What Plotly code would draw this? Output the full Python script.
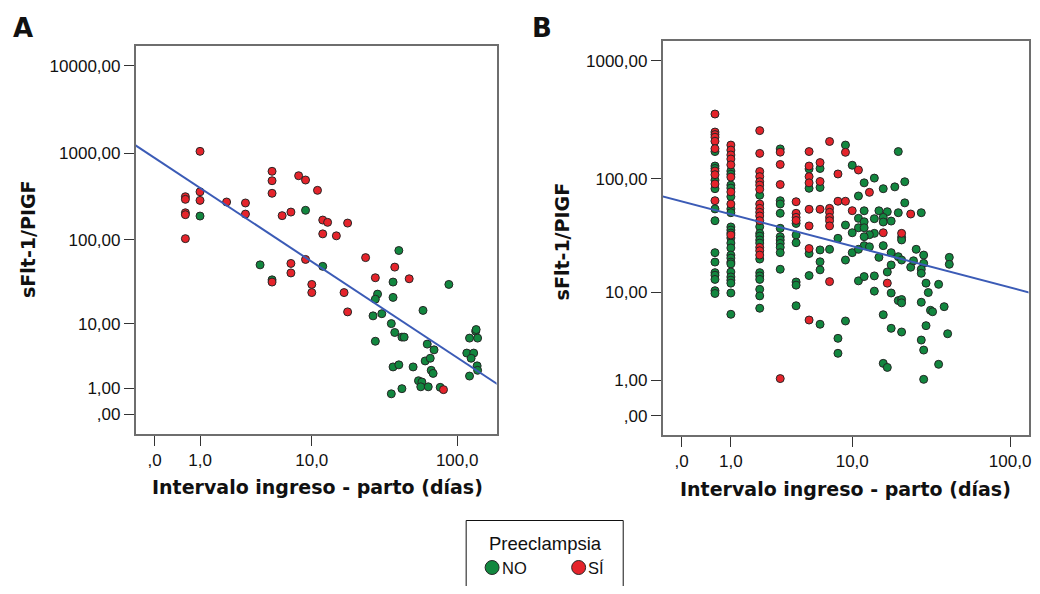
import plotly.graph_objects as go

# ---------------- data (days from admission to delivery, sFlt-1/PlGF ratio) ----------------
# Panel A
A_NO = [(1, 188), (9, 219), (4, 51), (12, 49), (5, 34), (40.5, 75), (37, 32), (88, 30), (29, 23),
        (28, 20), (37, 21), (27, 12.5), (31, 13.3), (59, 14.6), (36, 10), (38, 7.7), (42.5, 6.7),
        (44, 6.7), (28, 5.9), (63, 5.4), (70, 4.5), (133, 8), (134, 8.4), (121, 6.5), (137, 6.5),
        (116, 4.05), (129, 4.05), (124, 3.4), (136, 2.6), (137, 2.2), (121, 1.75), (37, 2.5),
        (40.5, 2.7), (50.6, 2.5), (61, 3.1), (66, 3.4), (67, 2.2), (69, 1.95), (55, 1.43),
        (58, 1.35), (57, 1.07), (64, 1.07), (77, 1.04), (42.5, 0.97), (36, 0.72)]
A_SI = [(1, 1045), (0.6, 314), (0.6, 293), (0.6, 205), (0.6, 195), (1, 358), (1, 285), (0.6, 103),
        (2, 273), (3, 266), (3, 198), (5, 616), (5, 480), (5, 344), (8, 548), (9, 489), (11, 372),
        (6, 190), (7, 209), (12, 169), (13, 159), (12, 117), (15, 111), (7, 53), (7, 41), (9, 59),
        (5, 32), (10, 30), (10, 24), (18, 156), (24, 62), (38, 48), (28, 36), (47.6, 35), (17, 24),
        (18, 14), (81, 0.92)]
A_FIT = (2.944, -1.144)   # log10(ratio+1) = a + b*log10(days+1)

# Panel B  (columns of equal day values, then scattered points)
B_NO_COLS = {
    0.6: [170, 128, 122, 97, 82, 55, 43.5, 22.9, 18.9, 15.2, 14.4, 13.2, 10.4, 9.8],
    1: [116, 109, 88, 83, 70, 55, 51, 38.4, 36.1, 34, 30.8, 27.8, 25.2, 21.8, 20.5, 18.9, 18.2,
        15.4, 13.9, 13.0, 12.2, 9.9, 6.2],
    2: [72, 38.6, 33.8, 32, 29.6, 27.8, 20.1, 15.2, 14.2, 13.2, 10.7, 9.3, 7.1],
    3: [179, 64.7, 60.6, 50.4, 37.4, 31.6, 29.6, 27.6, 25.5, 22.9, 16.3],
    4: [41.2, 32.7, 28, 12.5, 11.7, 7.5],
    5: [121, 82.6, 22.5, 14.3],
    6: [122, 84, 24.2, 19, 16.1, 4.93],
    7: [24.5],
}
B_NO_PTS = [(9, 193), (10, 130), (20, 170), (12, 92), (14, 101), (22, 94), (16, 82), (19, 85),
            (11, 71), (22, 62), (12, 53), (15, 53), (17, 52), (20, 51), (28, 51), (11, 45.6),
            (12, 42.6), (14, 45.3), (16, 46.5), (16, 42.4), (18, 43.2), (9, 39.9), (11, 37.8),
            (12, 37.8), (10, 34.2), (14, 33.8), (13, 32.9), (12, 31.6), (21, 31.2), (21, 29.6),
            (8, 30.6), (12, 26.4), (13, 25.8), (16, 26.4), (26, 24.5), (10, 22.9), (11, 24.5),
            (9, 19.7), (15, 20.8), (18, 22.9), (20, 21.1), (21, 19.7), (18, 17.8), (17, 15.4),
            (24, 17.0), (25, 19.4), (29, 21.8), (29, 18.4), (28, 16.3), (28, 15.0), (42, 20.8),
            (42, 18.05), (11, 12.8), (12, 14.0), (14, 14.2), (14, 10.3), (18, 9.9), (20, 8.4),
            (21, 8.6), (21, 8.0), (30, 12.2), (36, 11.9), (31, 10.0), (28, 8.1), (32, 6.78),
            (33, 6.57), (39, 7.35), (16, 6.14), (9, 5.32), (18, 4.48), (21, 4.10), (30, 4.77),
            (41, 3.93), (8, 3.51), (8, 2.37), (28, 3.36), (29, 2.59), (16, 1.77), (17, 1.56),
            (36, 1.72), (29, 1.03)]
B_SI_COLS = {
    0.6: [354, 249, 237, 225, 208, 180, 116, 108, 90, 64.7],
    1: [193, 175, 159, 147, 131, 103, 77, 60.6, 32.7],
    2: [256, 164, 115, 104, 94, 88, 81, 60.6, 55.6, 51.4, 47.8, 43.5, 25.5, 23.8, 21.8],
    3: [168, 132, 89, 1.06],
    4: [63.4, 50.4, 46.5, 43.7],
    5: [170, 128, 104, 92, 54.6, 39.2, 24.9, 5.44],
    6: [137, 94.5, 54.6],
    7: [207, 55.6, 51.4, 46.5, 43.5, 39.2, 12.6],
}
B_SI_PTS = [(8, 109.5), (9, 167.5), (11, 118.4), (13, 76.3), (8, 64), (9, 64), (10, 53.1),
            (24, 49.7), (16, 34.2), (21, 33.8), (17, 12.2)]
B_FIT = (1.812, -0.3634)

X_TICKS = [0, 1, 10, 100]
X_TICKTEXT = [",0", "1,0", "10,0", "100,0"]
A_Y_TICKS = [0, 1, 10, 100, 1000, 10000]
A_Y_TICKTEXT = [",00", "1,00", "10,00", "100,00", "1000,00", "10000,00"]
B_Y_TICKS = [0, 1, 10, 100, 1000]
B_Y_TICKTEXT = [",00", "1,00", "10,00", "100,00", "1000,00"]

# ---------------- styling ----------------
OFF = 8                      # page body margin
FW, FH = 1032, 578           # figure size so that it fits the 1040x594 window
GREEN = "#12873f"
RED = "#e5242b"
EDGE = "#262626"
BLUE = "#3b5bb6"
FRAME = "#6e6e6e"
TICKFONT = dict(family="Liberation Sans, Arial, sans-serif", size=17, color="#111111")
BOLD = "DejaVu Sans, Verdana, sans-serif"


def fx(p):
    return (p - OFF) / FW


def fy(p):
    return 1 - (p - OFF) / FH


def expand(cols, pts):
    d, v = [], []
    for day, vals in cols.items():
        for val in vals:
            d.append(day)
            v.append(val)
    for day, val in pts:
        d.append(day)
        v.append(val)
    return d, v


fig = go.Figure()


def add_points(days, vals, color, xa, ya):
    # safe-log scale: plotted on a log axis as value + 1
    fig.add_trace(go.Scatter(
        x=[d + 1 for d in days], y=[v + 1 for v in vals], mode="markers",
        marker=dict(size=8, color=color, line=dict(color=EDGE, width=1)),
        xaxis=xa, yaxis=ya, showlegend=False, hoverinfo="skip"))


def add_fit(fit, xr, xa, ya):
    a, b = fit
    xs = [10 ** (xr[0] - 0.05), 10 ** (xr[1] + 0.05)]
    ys = [10 ** (a + b * (xr[0] - 0.05)), 10 ** (a + b * (xr[1] + 0.05))]
    fig.add_trace(go.Scatter(x=xs, y=ys, mode="lines", line=dict(color=BLUE, width=2),
                             xaxis=xa, yaxis=ya, showlegend=False, hoverinfo="skip"))


A_XR = [-0.1255, 2.2655]
A_YR = [-0.226, 4.229]
B_XR = [-0.1154, 2.1166]
B_YR = [-0.163, 3.170]

# Panel A
add_points([p[0] for p in A_NO], [p[1] for p in A_NO], GREEN, "x", "y")
add_points([p[0] for p in A_SI], [p[1] for p in A_SI], RED, "x", "y")
add_fit(A_FIT, A_XR, "x", "y")

# Panel B
bd, bv = expand(B_NO_COLS, B_NO_PTS)
add_points(bd, bv, GREEN, "x2", "y2")
bd, bv = expand(B_SI_COLS, B_SI_PTS)
add_points(bd, bv, RED, "x2", "y2")
add_fit(B_FIT, B_XR, "x2", "y2")

axis_common = dict(type="log", showgrid=False, zeroline=False, showline=True, mirror=True,
                   linecolor=FRAME, linewidth=1.5, ticks="outside", ticklen=10, tickwidth=1.2,
                   tickcolor="#333333", tickfont=TICKFONT, ticklabeloverflow="allow")

fig.update_layout(
    width=FW, height=FH, margin=dict(l=0, r=0, t=0, b=0),
    paper_bgcolor="white", plot_bgcolor="white", showlegend=False,
    xaxis=dict(axis_common, domain=[fx(136), fx(498)], range=A_XR, anchor="y",
               tickvals=[t + 1 for t in X_TICKS], ticktext=X_TICKTEXT),
    yaxis=dict(axis_common, domain=[fy(434), fy(46)], range=A_YR, anchor="x",
               tickvals=[t + 1 for t in A_Y_TICKS], ticktext=A_Y_TICKTEXT),
    xaxis2=dict(axis_common, domain=[fx(664.5), fx(1031.5)], range=B_XR, anchor="y2",
                tickvals=[t + 1 for t in X_TICKS], ticktext=X_TICKTEXT),
    yaxis2=dict(axis_common, domain=[fy(435), fy(40.7)], range=B_YR, anchor="x2",
                tickvals=[t + 1 for t in B_Y_TICKS], ticktext=B_Y_TICKTEXT),
)

ann = []


def text(x, y, s, size, family, angle=0, xanchor="center", color="#111111"):
    ann.append(dict(x=fx(x), y=fy(y), xref="paper", yref="paper", text=s, showarrow=False,
                    xanchor=xanchor, yanchor="middle", textangle=angle,
                    font=dict(family=family, size=size, color=color)))


text(23, 28, "<b>A</b>", 26, BOLD)
text(544, 28, "<b>B</b>", 26, BOLD)
text(318, 487, "<b>Intervalo ingreso - parto (días)</b>", 19, BOLD)
text(848, 489, "<b>Intervalo ingreso - parto (días)</b>", 19, BOLD)
text(28, 239, "<b>sFlt-1/PIGF</b>", 19, BOLD, angle=-90)
text(564, 241, "<b>sFlt-1/PIGF</b>", 19, BOLD, angle=-90)

# legend
LEG_FONT = "Liberation Sans, Arial, sans-serif"
text(547.5, 543, "Preeclampsia", 18.5, LEG_FONT)
text(501.5, 567.5, "NO", 16.5, LEG_FONT, xanchor="left")
text(588, 567.5, "SÍ", 16.5, LEG_FONT, xanchor="left")
fig.update_layout(annotations=ann)

shapes = [
    dict(type="rect", xref="paper", yref="paper", x0=fx(467.5), x1=fx(625), y0=fy(605), y1=fy(520.5),
         line=dict(color="#111111", width=1), fillcolor="rgba(0,0,0,0)"),
    dict(type="circle", xref="paper", yref="paper", x0=fx(486.5), x1=fx(500.5), y0=fy(574.5), y1=fy(560.5),
         line=dict(color=EDGE, width=1), fillcolor=GREEN),
    dict(type="circle", xref="paper", yref="paper", x0=fx(573.3), x1=fx(587.3), y0=fy(574.5), y1=fy(560.5),
         line=dict(color=EDGE, width=1), fillcolor=RED),
]
fig.update_layout(shapes=shapes)

fig.write_html("out.html")
